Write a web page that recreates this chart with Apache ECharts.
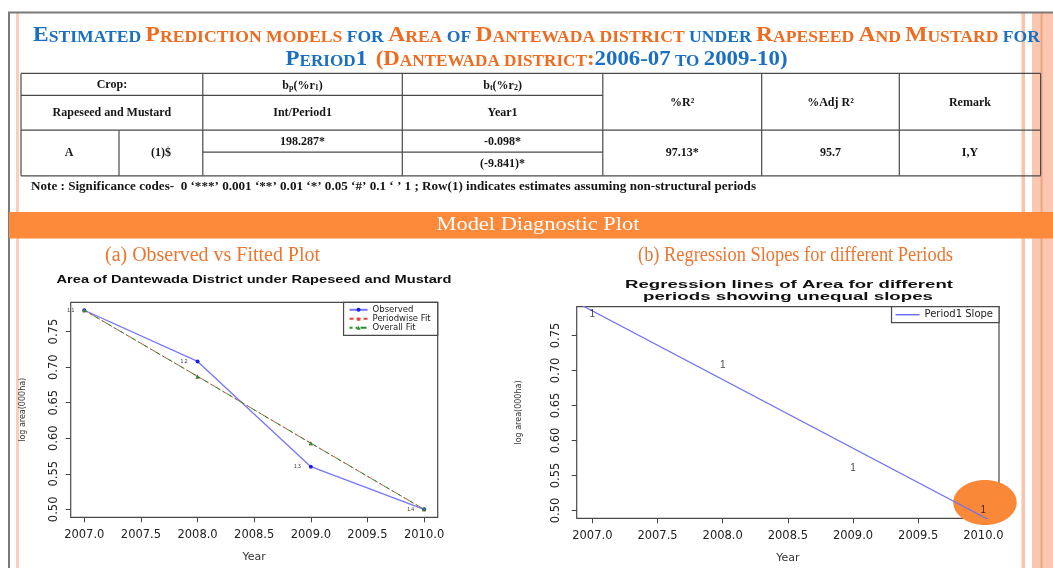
<!DOCTYPE html>
<html>
<head>
<meta charset="utf-8">
<script src="https://cdn.jsdelivr.net/npm/echarts@6/dist/echarts.min.js"></script>
<style>
  html, body { margin: 0; padding: 0; background: #fff; }
  #main { width: 1053px; height: 568px; }
</style>
</head>
<body>
<div id="main"></div>
<script>
// ---------- data ----------
const years = [2007, 2008, 2009, 2010];
const observed = [0.780, 0.708, 0.560, 0.500];
const periodwiseFit = [0.780, 0.687, 0.593, 0.500];
const overallFit = [0.780, 0.687, 0.593, 0.500];
const pointLabels = ['1.1', '1.2', '1.3', '1.4'];
const periodLabels = ['1', '1', '1', '1'];
const slopeYears = [2006.88, 2010.12];
const slopeValues = [0.797, 0.479];
const yearTicks = [2007, 2007.5, 2008, 2008.5, 2009, 2009.5, 2010];
const areaTicks = [0.50, 0.55, 0.60, 0.65, 0.70, 0.75];
const yearRange = [2006.88, 2010.12];
const areaRange = [0.4888, 0.7912];

// table contents
const headRow1 = ['Crop:', '{b|b}{sub|p}{b|(%r}{sub|1}{b|)}', '{b|b}{sub|t}{b|(%r}{sub|2}{b|)}'];
const headRow2 = ['Rapeseed and Mustard', 'Int/Period1', 'Year1'];
const headMerged = ['%R²', '%Adj R²', 'Remark'];
const rowLabels = ['A', '(1)$'];
const estimates = ['198.287*', '-0.098*'];
const tValues = ['', '(-9.841)*'];
const fitStats = ['97.13*', '95.7', 'I,Y'];
const noteText = 'Note : Significance codes-  0 \u2018***\u2019 0.001 \u2018**\u2019 0.01 \u2018*\u2019 0.05 \u2018#\u2019 0.1 \u2018 \u2019 1 ; Row(1) indicates estimates assuming non-structural periods';

// headings
const titleLine1 = [
  ['Estimated ', 'B'], ['Prediction models ', 'O'], ['for ', 'B'], ['Area ', 'O'], ['of ', 'B'],
  ['Dantewada district ', 'O'], ['under ', 'B'], ['Rapeseed And Mustard ', 'O'], ['for', 'B']
];
const titleLine2 = [['Period1  ', 'B'], ['(Dantewada district:', 'O'], ['2006-07 to 2009-10)', 'B']];
const bannerText = 'Model Diagnostic Plot';
const subTitleA = '(a) Observed vs Fitted Plot';
const subTitleB = '(b) Regression Slopes for different Periods';
const chartTitleA = 'Area of Dantewada District under Rapeseed and Mustard';
const chartTitleB = ['Regression lines of Area for different', 'periods showing unequal slopes'];

// ---------- helpers ----------
const BLUE = '#1a6fc3', ORANGE = '#ee6b1f', SUB_ORANGE = '#ec7630';
const SERIF = 'Liberation Serif', SANS = 'Liberation Sans', DJV = 'DejaVu Sans';
const mctx = document.createElement('canvas').getContext('2d');
function measure(str, size, weight, family) {
  mctx.font = (weight || 'normal') + ' ' + size + 'px "' + family + '"';
  return mctx.measureText(str).width;
}

// small-caps heading built from rich text tokens
const BIG = 22, SMALL = 16.5;
function capsRich(phrases) {
  let text = '', width = 0;
  phrases.forEach(([txt, col]) => {
    let cur = null, buf = '';
    const flush = () => {
      if (!buf) return;
      text += '{' + cur + col + '|' + buf + '}';
      width += measure(buf, cur === 'L' ? BIG : SMALL, 'bold', SERIF);
      buf = '';
    };
    for (const ch of txt) {
      const kind = ((ch >= 'a' && ch <= 'z') || ch === ' ') ? 'S' : 'L';
      if (kind !== cur) { flush(); cur = kind; }
      buf += kind === 'S' ? ch.toUpperCase() : ch;
    }
    flush();
  });
  return { text, width };
}
const capsStyles = {};
[['B', BLUE], ['O', ORANGE]].forEach(([k, c]) => {
  capsStyles['L' + k] = { fontFamily: SERIF, fontWeight: 'bold', fontSize: BIG, lineHeight: 27, verticalAlign: 'bottom', fill: c, color: c };
  capsStyles['S' + k] = { fontFamily: SERIF, fontWeight: 'bold', fontSize: SMALL, lineHeight: 23.3, verticalAlign: 'bottom', fill: c, color: c };
});

function fittedText(str, x, y, size, weight, family, target, color, align) {
  const w = measure(str, size, weight, family);
  return {
    type: 'text', x: x, y: y, scaleX: target / w, z: 4,
    style: { text: str, fontFamily: family, fontWeight: weight, fontSize: size, fill: color,
             align: align || 'center', verticalAlign: 'middle' }
  };
}

// ---------- slide decoration ----------
const G = [];
G.push({ type: 'rect', shape: { x: 16, y: 12, width: 3, height: 556 }, style: { fill: '#fbcdbb' }, z: 0 });
G.push({ type: 'rect', shape: { x: 1021.5, y: 12, width: 3.5, height: 556 }, style: { fill: '#fbc3aa' }, z: 0 });
G.push({ type: 'rect', shape: { x: 1032, y: 12, width: 21, height: 556 }, style: { fill: '#fcc7b0' }, z: 0 });
G.push({ type: 'rect', shape: { x: 1040.5, y: 12, width: 2, height: 556 }, style: { fill: '#f2a382' }, z: 0 });
G.push({ type: 'line', shape: { x1: 8, y1: 12.5, x2: 1053, y2: 12.5 }, style: { stroke: '#7a7a7a', lineWidth: 2 }, z: 1 });
G.push({ type: 'line', shape: { x1: 9, y1: 12, x2: 9, y2: 568 }, style: { stroke: '#7a7a7a', lineWidth: 2 }, z: 1 });

// heading
const t1 = capsRich(titleLine1), t2 = capsRich(titleLine2);
const titleScale = 1007 / t1.width;
G.push({ type: 'text', x: 536.5, y: 32.5, scaleX: titleScale, z: 4,
  style: { text: t1.text, rich: capsStyles, align: 'center', verticalAlign: 'middle' } });
G.push({ type: 'text', x: 536.5, y: 56.7, scaleX: 502 / t2.width, z: 4,
  style: { text: t2.text, rich: capsStyles, align: 'center', verticalAlign: 'middle' } });

// table grid
const colX = [21, 119, 202.8, 402.3, 602.8, 761.7, 899.3, 1040.6];
const rowY = [73.4, 95.4, 130.2, 152.1, 175.8];
const tl = (x1, y1, x2, y2) => G.push({ type: 'line', shape: { x1, y1, x2, y2 }, style: { stroke: '#4a4a4a', lineWidth: 1.2 }, z: 2 });
tl(colX[0], rowY[0], colX[7], rowY[0]);
tl(colX[0], rowY[1], colX[4], rowY[1]);
tl(colX[0], rowY[2], colX[7], rowY[2]);
tl(colX[2], rowY[3], colX[4], rowY[3]);
tl(colX[0], rowY[4], colX[7], rowY[4]);
[0, 2, 3, 4, 5, 6, 7].forEach(i => tl(colX[i], rowY[0], colX[i], rowY[4]));
tl(colX[1], rowY[2], colX[1], rowY[4]);

const cellStyle = { fontFamily: SERIF, fontWeight: 'bold', fontSize: 12, fill: '#151515', align: 'center', verticalAlign: 'middle' };
const cellRich = {
  b: { fontFamily: SERIF, fontWeight: 'bold', fontSize: 12, lineHeight: 14, verticalAlign: 'bottom', fill: '#151515' },
  sub: { fontFamily: SERIF, fontWeight: 'bold', fontSize: 8, lineHeight: 6, verticalAlign: 'bottom', fill: '#151515' }
};
function cell(text, x, y, rich) {
  const st = Object.assign({}, cellStyle, { text });
  if (rich) st.rich = cellRich;
  G.push({ type: 'text', x, y, z: 4, style: st });
}
const mid = (a, b) => (a + b) / 2;
const ccol = [mid(colX[0], colX[2]), mid(colX[2], colX[3]), mid(colX[3], colX[4])];
headRow1.forEach((t, i) => cell(t, ccol[i], 85.2, i > 0));
headRow2.forEach((t, i) => cell(t, ccol[i], 113.3));
headMerged.forEach((t, i) => cell(t, mid(colX[4 + i], colX[5 + i]), 102.5));
cell(rowLabels[0], mid(colX[0], colX[1]) - 1, 153);
cell(rowLabels[1], mid(colX[1], colX[2]), 153);
estimates.forEach((t, i) => cell(t, ccol[1 + i], 141.5));
tValues.forEach((t, i) => cell(t, ccol[1 + i], 163.5));
fitStats.forEach((t, i) => cell(t, mid(colX[4 + i], colX[5 + i]), 153));
G.push(fittedText(noteText, 31, 186.6, 12, 'bold', SERIF, 725, '#151515', 'left'));

// banner and panel headings
G.push({ type: 'rect', shape: { x: 9, y: 212, width: 1044, height: 26.5 }, style: { fill: '#fd8a3b' }, z: 3 });
G.push(fittedText(bannerText, 538, 225, 19, 'normal', SERIF, 203, '#ffffff'));
G.push(fittedText(subTitleA, 212.5, 256, 20, 'normal', SERIF, 215, SUB_ORANGE));
G.push(fittedText(subTitleB, 795.5, 256, 20, 'normal', SERIF, 315, SUB_ORANGE));

// chart titles
G.push(fittedText(chartTitleA, 254, 280, 11.5, 'bold', SANS, 395, '#111'));
G.push(fittedText(chartTitleB[0], 789, 285, 11, 'bold', SANS, 328, '#111'));
G.push(fittedText(chartTitleB[1], 788, 296.7, 11, 'bold', SANS, 290, '#111'));

// highlight on the last period point
G.push({ type: 'ellipse', shape: { cx: 985, cy: 502.5, rx: 31.7, ry: 22.5 }, style: { fill: '#f98838' }, z: 3 });

// ---------- chart ----------
const pairs = (xs, ys) => xs.map((x, i) => [x, ys[i]]);
const tickLabel = { fontFamily: DJV, fontSize: 11.5, color: '#222' };
function xAxisFor(gi) {
  return {
    type: 'value', gridIndex: gi, min: yearRange[0], max: yearRange[1],
    axisLine: { show: false },
    axisTick: { show: true, length: 5, customValues: yearTicks, lineStyle: { color: '#444' } },
    axisLabel: Object.assign({ customValues: yearTicks, margin: 12, formatter: v => v.toFixed(1) }, tickLabel),
    splitLine: { show: false },
    name: 'Year', nameLocation: 'middle', nameGap: 34,
    nameTextStyle: { fontFamily: DJV, fontSize: 11, color: '#333' }
  };
}
function yAxisFor(gi, margin, gap) {
  return {
    type: 'value', gridIndex: gi, min: areaRange[0], max: areaRange[1],
    axisLine: { show: false },
    axisTick: { show: true, length: 5, customValues: areaTicks, lineStyle: { color: '#444' } },
    axisLabel: Object.assign({ customValues: areaTicks, rotate: 90, margin: margin, formatter: v => v.toFixed(2) }, tickLabel),
    splitLine: { show: false },
    name: 'log area(000ha)', nameLocation: 'middle', nameRotate: 90, nameGap: gap,
    nameTextStyle: { fontFamily: DJV, fontSize: 8, color: '#333' }
  };
}

const option = {
  animation: false,
  backgroundColor: '#ffffff',
  graphic: { elements: G },
  grid: [
    { left: 70.7, top: 302.3, width: 367, height: 215, show: true, borderColor: '#4a4a4a', borderWidth: 1.2, backgroundColor: 'transparent' },
    { left: 576.7, top: 306.7, width: 422.3, height: 211.6, show: true, borderColor: '#4a4a4a', borderWidth: 1.2, backgroundColor: 'transparent' }
  ],
  xAxis: [xAxisFor(0), xAxisFor(1)],
  yAxis: [yAxisFor(0, 11, 44), yAxisFor(1, 15, 54)],
  legend: [
    {
      data: ['Observed', 'Periodwise Fit', 'Overall Fit'],
      orient: 'vertical', right: 1053 - 437.7, top: 302.3,
      itemWidth: 18, itemHeight: 5, itemGap: 0, padding: [3, 7, 3, 5],
      borderColor: '#4a4a4a', borderWidth: 1.2, backgroundColor: '#fff',
      textStyle: { fontFamily: DJV, fontSize: 8.5, color: '#222' }
    },
    {
      data: ['Period1 Slope'],
      orient: 'vertical', right: 1053 - 999, top: 306.7,
      icon: 'rect', itemWidth: 24, itemHeight: 1.5, padding: [3, 6, 3, 4],
      borderColor: '#4a4a4a', borderWidth: 1.2, backgroundColor: '#fff',
      textStyle: { fontFamily: DJV, fontSize: 10, color: '#222' }
    }
  ],
  series: [
    {
      name: 'Observed', type: 'line', xAxisIndex: 0, yAxisIndex: 0, z: 5,
      data: pairs(years, observed),
      symbol: 'circle', symbolSize: 4,
      lineStyle: { color: '#7676ff', width: 1.3 },
      itemStyle: { color: '#1c1cf0' },
      label: { show: true, position: 'left', distance: 8, fontSize: 5, color: '#333', fontFamily: SANS,
               formatter: p => pointLabels[p.dataIndex] }
    },
    {
      name: 'Periodwise Fit', type: 'line', xAxisIndex: 0, yAxisIndex: 0, z: 5,
      data: pairs(years, periodwiseFit),
      symbol: 'triangle', symbolSize: 4,
      lineStyle: { color: '#e5443d', width: 1, type: [4, 3] },
      itemStyle: { color: '#e5443d' }
    },
    {
      name: 'Overall Fit', type: 'line', xAxisIndex: 0, yAxisIndex: 0, z: 6,
      data: pairs(years, overallFit),
      symbol: 'triangle', symbolSize: 4,
      lineStyle: { color: '#2f8a2f', width: 1, type: [6, 3, 2, 3], dashOffset: 3 },
      itemStyle: { color: '#2f8a2f' }
    },
    {
      name: 'Period1 Slope', type: 'line', xAxisIndex: 1, yAxisIndex: 1, z: 5, clip: true,
      data: pairs(slopeYears, slopeValues),
      symbol: 'none',
      lineStyle: { color: '#6f6ff6', width: 1.2 },
      itemStyle: { color: '#6f6ff6' }
    },
    {
      name: 'period codes', type: 'scatter', xAxisIndex: 1, yAxisIndex: 1, z: 6,
      data: pairs(years, observed),
      symbolSize: 1, itemStyle: { color: 'rgba(0,0,0,0)' },
      label: { show: true, position: 'inside', fontSize: 10, color: '#111', fontFamily: SANS,
               formatter: p => periodLabels[p.dataIndex] }
    }
  ]
};

const chart = echarts.init(document.getElementById('main'), null, { renderer: 'canvas' });
chart.setOption(option);
</script>
</body>
</html>
